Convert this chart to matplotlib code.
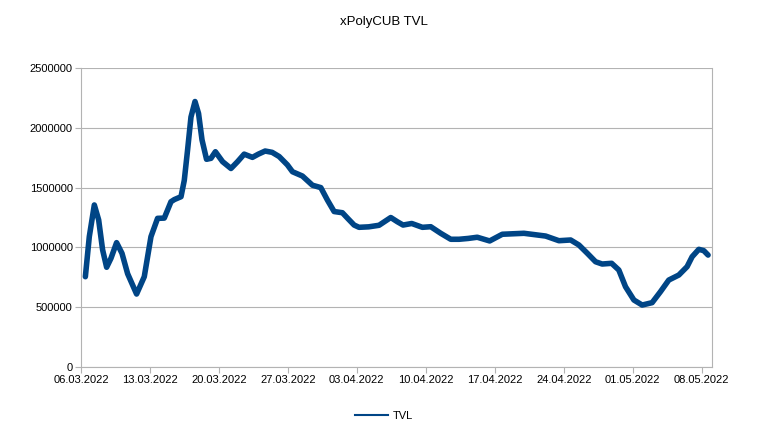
#!/usr/bin/env python3
"""xPolyCUB TVL chart, daily values read off the reference."""

import matplotlib
matplotlib.use("Agg")
import matplotlib.pyplot as plt
import matplotlib.dates as mdates
import numpy as np
import pandas as pd

plt.rcParams['font.family'] = ['Liberation Sans', 'DejaVu Sans']

start = pd.Timestamp("2022-03-06")

# days after 06.03.2022
day_offsets = [0.44, 0.84, 1.35, 1.79, 2.19, 2.60, 3.04, 3.61, 4.16, 4.73,
               5.64, 6.42, 7.10, 7.77, 8.45, 9.13, 9.47, 10.15, 10.48, 10.81,
               11.16, 11.57, 11.93, 12.28, 12.74, 13.19, 13.64, 14.37, 15.22,
               15.89, 16.56, 17.40, 18.0, 18.69, 19.4, 20.11, 20.95, 21.46,
               22.47, 23.49, 24.34, 25.01, 25.69, 26.53, 27.1, 27.72, 28.22,
               29.2, 30.25, 31.44, 32.1, 32.69, 33.57, 34.65, 35.50, 36.51,
               37.53, 38.37, 39.3, 40.22, 41.48, 42.76, 44.96, 47.16, 48.51,
               49.70, 50.54, 51.4, 52.23, 52.90, 53.86, 54.59, 55.27, 56.12,
               56.96, 57.97, 58.82, 59.66, 60.68, 61.52, 62.03, 62.71, 63.21,
               63.65]

tvl = [755000, 1090000, 1355000, 1230000, 980000, 834000, 909000, 1040000,
       950000, 780000,
       610000, 755000, 1090000, 1243000, 1245000, 1382000, 1400000, 1424000,
       1560000, 1810000,
       2090000, 2220000, 2120000, 1900000, 1737000, 1745000, 1800000, 1717000,
       1660000,
       1717000, 1780000, 1753000, 1780000, 1806000, 1795000, 1760000, 1690000,
       1633000,
       1597000, 1520000, 1500000, 1396000, 1300000, 1290000, 1240000, 1187000,
       1168000,
       1172000, 1185000, 1250000, 1215000, 1187000, 1200000, 1168000, 1173000,
       1118000,
       1068000, 1068000, 1075000, 1085000, 1054000, 1110000, 1118000, 1095000,
       1056000,
       1062000, 1020000, 950000, 880000, 861000, 867000, 811000, 671000, 560000,
       518000, 538000, 630000, 727000, 769000, 839000, 922000, 984000, 973000,
       936000]

y_ticks = [0, 500000, 1000000, 1500000, 2000000, 2500000]

dates = start + pd.to_timedelta(np.array(day_offsets), unit="D")

fig = plt.figure(figsize=(7.68, 4.32), dpi=100)
ax = fig.add_axes([0.1055, 0.1505, 0.822, 0.692])

line, = ax.plot(dates, tvl, color='#004586', linewidth=4.0,
                solid_joinstyle='round', solid_capstyle='round', label='TVL')

ax.set_xlim(start, start + pd.Timedelta(days=64.08))
ax.set_ylim(0, 2500000)
ax.set_yticks(y_ticks)
ax.set_yticklabels([str(v) for v in y_ticks])
ax.set_xticks(pd.date_range(start, periods=10, freq="7D"))
ax.xaxis.set_major_formatter(mdates.DateFormatter('%d.%m.%Y'))

ax.grid(True, axis='y', color='#b3b3b3', linewidth=0.8)
for side in ['left', 'bottom', 'right']:
    ax.spines[side].set_color('#b3b3b3')
    ax.spines[side].set_linewidth(0.8)
ax.spines['top'].set_visible(False)
ax.tick_params(axis='both', colors='#b3b3b3', labelcolor='black',
               labelsize=8, length=4, width=0.8, pad=2)
ax.set_axisbelow(True)

fig.text(0.5, 0.95, 'xPolyCUB TVL', ha='center', va='center', fontsize=9.5)

# legend handle drawn thinner than the data line, as in the reference
legend_line = plt.Line2D([], [], color='#004586', linewidth=1.5)
fig.legend(handles=[legend_line], labels=['TVL'], loc='center',
           bbox_to_anchor=(0.5, 0.037), frameon=False, fontsize=8,
           handlelength=3, handletextpad=0.4)

fig.savefig('out.png', dpi=100)
